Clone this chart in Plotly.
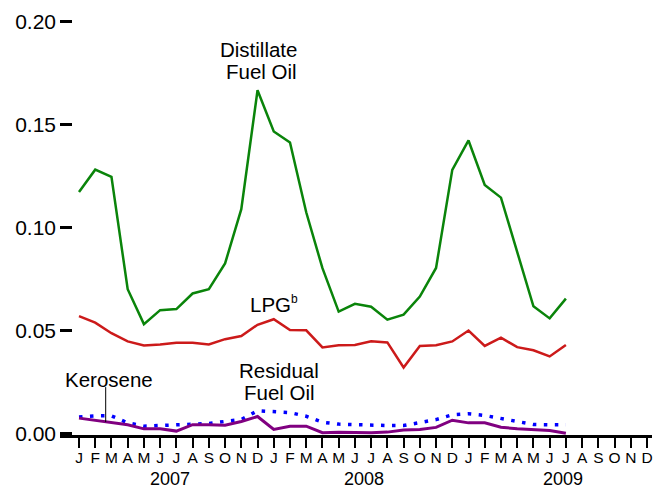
import plotly.graph_objects as go

# Month index 0 = Jan 2007
months = list(range(31))  # Jan 2007 .. Jul 2009

distillate = [0.1173, 0.1282, 0.1247, 0.0701, 0.0531, 0.0599, 0.0604, 0.0680, 0.0701, 0.0826,
              0.1090, 0.1668, 0.1468, 0.1414, 0.1075, 0.0803, 0.0592, 0.0630, 0.0616, 0.0553,
              0.0577, 0.0665, 0.0804, 0.1281, 0.1424, 0.1208, 0.1146, 0.0878, 0.0618, 0.0559,
              0.0655]
lpg = [0.0570, 0.0538, 0.0487, 0.0447, 0.0427, 0.0432, 0.0441, 0.0441, 0.0432, 0.0458,
       0.0473, 0.0528, 0.0555, 0.0502, 0.0501, 0.0418, 0.0428, 0.0430, 0.0448, 0.0442,
       0.0320, 0.0425, 0.0428, 0.0447, 0.0500, 0.0425, 0.0465, 0.0419, 0.0404, 0.0374,
       0.0430]
residual = [0.0074, 0.0063, 0.0054, 0.0042, 0.0022, 0.0022, 0.0011, 0.0042, 0.0042, 0.0039,
            0.0058, 0.0082, 0.0019, 0.0035, 0.0035, 0.0003, 0.0005, 0.0004, 0.0003, 0.0006,
            0.0016, 0.0019, 0.0029, 0.0064, 0.0051, 0.0051, 0.0030, 0.0022, 0.0019, 0.0014,
            0.0000]
kerosene = [0.0080, 0.0085, 0.0085, 0.0051, 0.0035, 0.0038, 0.0042, 0.0048, 0.0048, 0.0058,
            0.0067, 0.0110, 0.0106, 0.0101, 0.0083, 0.0054, 0.0045, 0.0042, 0.0042, 0.0038,
            0.0038, 0.0051, 0.0067, 0.0090, 0.0095, 0.0087, 0.0071, 0.0056, 0.0043, 0.0042,
            0.0042]

month_letters = ["J", "F", "M", "A", "M", "J", "J", "A", "S", "O", "N", "D"] * 3
tick_positions = list(range(36))
years = ["2007", "2008", "2009"]
year_positions = [5.6, 17.55, 29.8]

y_ticks = [0.0, 0.05, 0.10, 0.15, 0.20]
y_ticklabels = ["0.00", "0.05", "0.10", "0.15", "0.20"]

FONT = "Liberation Sans, Arial, sans-serif"

fig = go.Figure()
fig.add_trace(go.Scatter(x=months, y=kerosene, mode="lines",
                         line=dict(color="#0000ff", width=3.5, dash="3.5px,7.5px")))
fig.add_trace(go.Scatter(x=months, y=residual, mode="lines",
                         line=dict(color="#800080", width=3)))
fig.add_trace(go.Scatter(x=months, y=lpg, mode="lines",
                         line=dict(color="#cc1a1a", width=2.5)))
fig.add_trace(go.Scatter(x=months, y=distillate, mode="lines",
                         line=dict(color="#0a840a", width=2.5)))

# Kerosene leader line
fig.add_shape(type="line", xref="x", yref="y", x0=1.645, x1=1.645, y0=0.0225, y1=0.0055,
              line=dict(color="black", width=1))

def label(text, x, y, xanchor="center"):
    fig.add_annotation(text=text, x=x, y=y, xref="x", yref="y", showarrow=False,
                       xanchor=xanchor, yanchor="middle",
                       font=dict(family=FONT, size=20.5, color="black"))

label("Distillate", 11.07, 0.1868)
label("Fuel Oil", 11.26, 0.1760)
label("LPG<sup><span style='font-size:12px'>b</span></sup>", 10.41, 0.0630, xanchor="left")
label("Residual", 12.33, 0.0308)
label("Fuel Oil", 12.33, 0.0200)
label("Kerosene", 1.85, 0.0260)

for yr, xp in zip(years, year_positions):
    fig.add_annotation(text=yr, x=xp, y=0, xref="x", yref="paper", showarrow=False,
                       xanchor="center", yanchor="middle", yshift=-43.5,
                       font=dict(family=FONT, size=18, color="black"))

fig.update_layout(
    width=665, height=489,
    margin=dict(l=60, r=13, t=10, b=54.3),
    paper_bgcolor="white", plot_bgcolor="white",
    showlegend=False,
    font=dict(family=FONT, color="black"),
)
fig.update_xaxes(
    range=[-1.171, 35.306],
    tickmode="array", tickvals=tick_positions, ticktext=month_letters,
    ticks="outside", ticklen=10, tickwidth=2, tickcolor="black",
    ticklabelstandoff=-3,
    showline=True, linewidth=2.5, linecolor="black",
    showgrid=False, zeroline=False,
    tickfont=dict(family=FONT, size=15.5, color="black"),
)
fig.update_yaxes(
    range=[-0.0008, 0.2034],
    tickmode="array", tickvals=y_ticks, ticktext=y_ticklabels,
    ticks="inside", ticklen=12, tickwidth=2.5, tickcolor="black",
    ticklabelstandoff=3,
    showline=False, showgrid=False, zeroline=False,
    tickfont=dict(family=FONT, size=21, color="black"),
)

fig.write_html("out.html", config={"displayModeBar": False},
               post_script="document.body.style.margin='0px';document.body.style.overflow='hidden';")
